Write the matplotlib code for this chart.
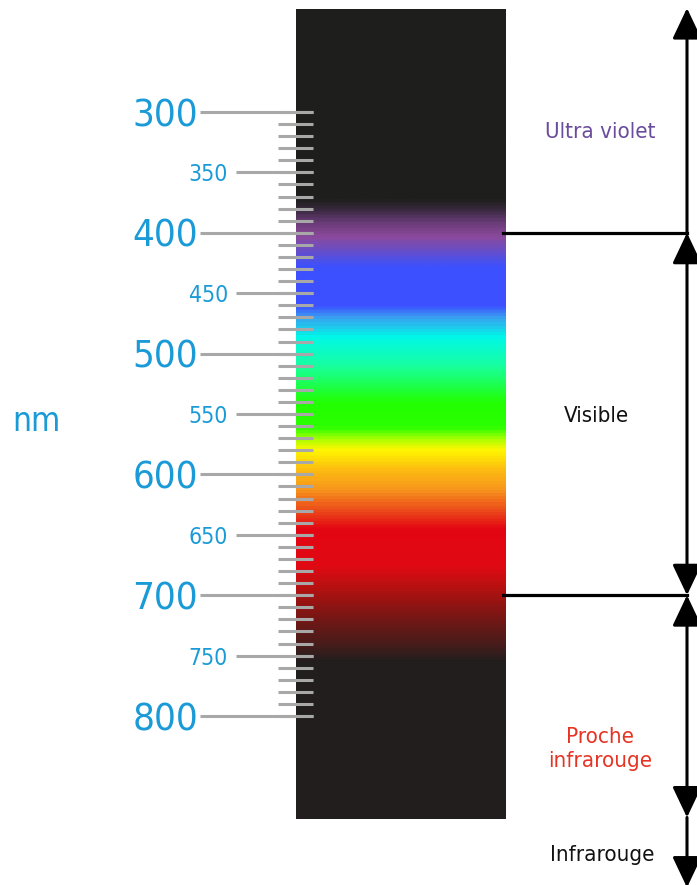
import matplotlib
matplotlib.use("Agg")
import matplotlib.pyplot as plt
import numpy as np
from matplotlib.colors import LinearSegmentedColormap

# Wavelength scale (nm)
major_ticks = [300, 400, 500, 600, 700, 800]
half_ticks = [350, 450, 550, 650, 750]
minor_ticks = list(range(300, 801, 10))

# Colour stops of the spectrum strip (nm, colour)
stop_nm = [215, 371, 381, 391, 403, 418, 428, 460, 470, 486, 510, 541, 561,
           570, 580, 595, 613, 630, 646, 677, 690, 715, 740, 756, 885]
stop_colors = ['#1e1e1c', '#1e1e1c', '#3a2a40', '#6a3c78', '#8c4a9c', '#5a50d8',
               '#3c50ff', '#3c50ff', '#3aa0f0', '#00f8e8', '#18ffa0', '#22ff00',
               '#2aff00', '#a0ff00', '#fff700', '#fdc010', '#f7941d', '#ec4a1a',
               '#e30613', '#e00a14', '#c01010', '#801614', '#4a1c1a', '#221e1e',
               '#221e1e']

# Domains on the right (nm boundaries) and their labels
bounds = [214, 400, 700, 884, 942]
domain_labels = ['Ultra violet', 'Visible', 'Proche\ninfrarouge', 'Infrarouge']
domain_colors = ['#6a4c9c', '#111111', '#e63424', '#111111']

blue = '#1a9ad7'
grey = '#a8a8a8'
font = ['DejaVu Sans']

W, H = 697, 885
px_per_nm = 1.208
y0 = 300 - 112 / px_per_nm          # nm at top of figure
y1 = y0 + H / px_per_nm             # nm at bottom of figure

fig = plt.figure(figsize=(W / 100, H / 100), dpi=100)
ax = fig.add_axes([0, 0, 1, 1])
ax.set_xlim(0, W)
ax.set_ylim(y1, y0)
ax.axis('off')

# spectrum strip
lo, hi = stop_nm[0], stop_nm[-1]
pos = [(v - lo) / (hi - lo) for v in stop_nm]
cmap = LinearSegmentedColormap.from_list('spec', list(zip(pos, stop_colors)))
grad = np.linspace(0, 1, 800).reshape(-1, 1)
ax.imshow(grad, cmap=cmap, aspect='auto', extent=(296, 506, hi, lo),
          interpolation='bilinear', zorder=1)

# ticks
for t in minor_ticks:
    ax.plot([278, 313], [t, t], color=grey, lw=2.2, solid_capstyle='butt', zorder=2)
for t in half_ticks:
    ax.plot([236, 313], [t, t], color=grey, lw=2.2, solid_capstyle='butt', zorder=2)
    ax.text(228, t, str(t), color=blue, fontsize=16.5, family=font,
            fontstretch='condensed', ha='right', va='center_baseline')
for t in major_ticks:
    ax.plot([200, 313], [t, t], color=grey, lw=2.2, solid_capstyle='butt', zorder=2)
    ax.text(198, t, str(t), color=blue, fontsize=27.5, family=font,
            fontstretch='condensed', ha='right', va='center_baseline')

ax.text(36, y0 + 418 / px_per_nm, 'nm', color=blue, fontsize=24, family=font,
        fontstretch='condensed', ha='center', va='center_baseline')

# domain boundaries
x_arrow = 687
for b in bounds[1:3]:
    ax.plot([503, x_arrow], [b, b], color='black', lw=2.3, zorder=3)

head = '-|>,head_length=1.9,head_width=0.9'
both = '<|-|>,head_length=1.9,head_width=0.9'
styles = [head, both, both, head]
for i in range(4):
    a, b = bounds[i + 1], bounds[i]
    if i == 3:
        a, b = bounds[i], bounds[i + 1]
    ax.annotate('', xy=(x_arrow, b), xytext=(x_arrow, a),
                arrowprops=dict(arrowstyle=styles[i], color='black', lw=2.2,
                                mutation_scale=10, shrinkA=0, shrinkB=0),
                annotation_clip=False)

label_y = [132, 416, 749, 855]
label_x = [600, 596, 600, 602]
for lab, col, ly, lx in zip(domain_labels, domain_colors, label_y, label_x):
    ax.text(lx, y0 + ly / px_per_nm, lab, color=col, fontsize=16, family=font,
            fontstretch='condensed', ha='center', va='center', linespacing=1.3)

fig.savefig('out.png', dpi=100)
